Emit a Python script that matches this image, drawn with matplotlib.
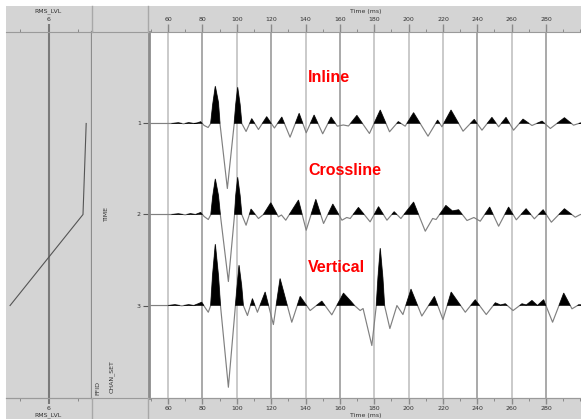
import matplotlib
matplotlib.use('Agg')
import matplotlib.pyplot as plt
from matplotlib.patches import Rectangle
from matplotlib.lines import Line2D
from matplotlib.ticker import MultipleLocator, FixedLocator
import numpy as np

W, H, DPI = 581, 419, 100
GRAY = '#d4d4d4'
EDGE = '#8c8c8c'
TRACE_PX = 91.0  # pixels between trace baselines

# ---- data ----
trace_ids = [1, 2, 3]
trace_names = ['Inline', 'Crossline', 'Vertical']
rms_lvl = [7.28, 7.17, 4.66]
time_ticks = [60, 80, 100, 120, 140, 160, 180, 200, 220, 240, 260, 280]
dark_grid = [80, 120, 160, 240, 280]

# wiggle key points: time (ms) and amplitude (pixels, up positive)
t_inline = [48, 62, 66, 69, 72, 75, 77, 79, 81, 83.3, 84.8, 86.0, 87.5, 89.3, 90.2,
            94.5, 98.5, 99.4, 100.5, 101.9, 102.9, 105.4, 108.7, 112.6, 117.4, 121.9,
            126.2, 131, 136.3, 140.4, 145, 150, 154.9, 158.5, 162, 165, 169.9, 177.2,
            183.5, 188.9, 194, 198, 202.9, 211.3, 216.9, 219.4, 224.7, 231.7, 238.2,
            242.7, 248.5, 252.4, 256.7, 261.1, 266.6, 271.8, 277.7, 282.5, 290.7,
            296, 300, 312]
a_inline = [0, 0, 0.7, -0.3, 0.8, 0, 0.5, 1.7, -2, -4, 0, 19, 37, 21, 0,
            -65, 0, 19, 36, 19, 0, -8, 4.7, -6, 6.7, -4.5,
            6.3, -13.7, 10, -9.3, 8.3, -10.3, 6.3, -2.7, -1.5, -2.5, 8, -10,
            13.3, -8.3, 1.8, -2.7, 10.7, -12.7, 3.3, -3.3, 13.3, -7.7, 4,
            -6.7, 6, -3.3, 6, -6.7, 4.3, -2, 2.3, -5, 5.7,
            -1.7, 0.5, 0]

t_cross = [48, 62, 66, 70, 73, 76, 79, 81, 83.4, 84.9, 86.0, 87.5, 89.3, 90.4,
           95.1, 98.7, 99.4, 100.5, 101.9, 102.9, 105.4, 108.3, 112.6, 115.5, 119.8,
           124.2, 126, 128.5, 135.9, 140.4, 146, 150.5, 155.9, 161.2, 164, 166,
           170.8, 177.6, 182.5, 187.4, 191.6, 195.5, 202.9, 209.7, 214, 216, 221.7,
           225.5, 229.1, 234, 238, 241.7, 247.2, 252.4, 258.2, 262.7, 268.4, 273.2,
           278.3, 283.1, 290.7, 297, 300, 312]
a_cross = [0, 0, 0.7, -0.3, 0.8, 0, 2, -2, -5, 0, 18, 35.3, 19, 0,
           -67, 0, 19, 37, 19, 0, -10.7, 5.3, -4, 0, 11.7,
           -2.3, -0.5, -5.7, 14.3, -15.7, 15, -9, 10.3, -5.7, -3, -4,
           7, -7.3, 7.7, -5.7, 2.7, -4, 12.3, -16.7, -4, -5, 9,
           3.5, 4.7, -6, -3, -6.7, 7.3, -11.7, 7.3, -5.3, 5.7, -4.3,
           4.7, -7.7, 5.7, -2.7, 0, 0]

t_vert = [48, 60, 64, 68, 72, 75, 77.5, 79.6, 81.5, 83.4, 84.8, 85.9, 87.5, 89.3,
          90.5, 95.1, 99.2, 100.2, 101.3, 102.8, 103.8, 106.2, 109.1, 112, 116.5,
          121.3, 125.2, 132, 136.9, 142.7, 149.5, 155.3, 162.1, 166.5, 168.5, 171.8,
          173.5, 178.6, 181.2, 182.2, 183.5, 185.0, 186, 189.1, 193.2, 196.7, 201.4,
          207.7, 215, 220, 224.8, 233, 238.8, 245.2, 250.5, 253.5, 256.3, 260.8,
          266, 268.5, 271.8, 275, 278.6, 283.8, 290.3, 295.1, 299, 312]
a_vert = [0, 0, 0.8, -0.3, 0.8, 0, 1.7, 3.3, -2, -6.7, 0, 30, 61, 30,
          0, -81.7, 0, 20, 40, 20, 0, -10, 6.7, -6.7, 13.3,
          -19, 26.7, -16.7, 9, -5, 4.3, -9.3, 12.3, 4, 0, -5,
          -3, -40, 0, 28, 57, 28, 0, -23, 0, -9, 16.2,
          -10.5, 9, -14, 13.3, -6.7, 5.7, -9, 2.7, 0.5, 1.7, -5,
          1.7, 0.5, 5, 0, 5.7, -16.7, 12.3, -3.3, 0.7, 0]

traces_t = [t_inline, t_cross, t_vert]
traces_a = [a_inline, a_cross, a_vert]


def box(x0, y0, x1, y1):
    # pixel box (top-left origin) -> figure fraction rect
    return [x0 / W, 1 - y1 / H, (x1 - x0) / W, (y1 - y0) / H]


def px_to_ms(x):
    return 50 + (x - 150.9) / 1.718


fig = plt.figure(figsize=(W / DPI, H / DPI), dpi=DPI)
fig.patches.append(Rectangle((6 / W, 0), 1, 1 - 6 / H, transform=fig.transFigure,
                             facecolor=GRAY, edgecolor='none', zorder=-5))
# header separators
for xs in (92, 148):
    for ya, yb in ((6, 32), (398, 419)):
        fig.lines.append(Line2D([xs / W, xs / W], [1 - ya / H, 1 - yb / H],
                                transform=fig.transFigure, color='#a8a8a8', lw=1))

ylim = (4.016, -0.005)
small = dict(fontsize=4.5, color='#333333', family='DejaVu Sans')
tick_top = dict(labelsize=4.5, labelcolor='#333333', pad=1.5)
tick_bot = dict(labelsize=4.5, labelcolor='#333333', pad=1.2)

# ---- left panel: RMS level ----
ax_rms = fig.add_axes(box(6, 32, 92, 398))
ax_rms.set_facecolor(GRAY)
ax_rms.set_xlim(4.52, 7.48)
ax_rms.set_ylim(*ylim)
ax_rms.axvline(6, color='#7a7a7a', lw=1.5)
ax_rms.plot(rms_lvl, trace_ids, color='#555555', lw=0.8)
ax_rms.set_yticks([])
ax_rms.xaxis.tick_top()
ax_rms.set_xticks([6])
ax_rms.xaxis.set_minor_locator(FixedLocator([5, 7]))
ax_rms.tick_params(axis='x', which='major', length=5.5, width=1.5, color='#7a7a7a',
                   **tick_top)
ax_rms.tick_params(axis='x', which='minor', length=2, width=0.7, color='#888888')
sec = ax_rms.secondary_xaxis('bottom')
sec.set_xticks([6])
sec.xaxis.set_minor_locator(FixedLocator([5, 7]))
sec.tick_params(axis='x', which='major', length=4.5, width=1.5, color='#7a7a7a',
                **tick_bot)
sec.tick_params(axis='x', which='minor', length=2, width=0.7, color='#888888')
sec.spines['bottom'].set_color('#9a9a9a')
ax_rms.spines['left'].set_visible(False)
ax_rms.spines['right'].set_color(EDGE)
ax_rms.spines['right'].set_linewidth(1.6)
for s in ('top', 'bottom'):
    ax_rms.spines[s].set_color('#9a9a9a')
fig.text(48 / W, 1 - 11.5 / H, 'RMS_LVL', ha='center', va='center', **small)
fig.text(48 / W, 1 - 415.5 / H, 'RMS_LVL', ha='center', va='center', **small)

# ---- middle panel: header names ----
ax_mid = fig.add_axes(box(92, 32, 149, 398))
ax_mid.set_facecolor(GRAY)
ax_mid.set_xticks([])
ax_mid.set_yticks([])
for s in ('left', 'right'):
    ax_mid.spines[s].set_visible(False)
for s in ('top', 'bottom'):
    ax_mid.spines[s].set_color('#9a9a9a')
ax_mid.text(14 / 57, 1 - 182 / 366, 'TIME', rotation=90, ha='center', va='center',
            transform=ax_mid.transAxes, **small)
ax_mid.text(6 / 57, 1 - 356 / 366, 'FFID', rotation=90, ha='center', va='center',
            transform=ax_mid.transAxes, **small)
ax_mid.text(20 / 57, 1 - 345 / 366, 'CHAN_SET', rotation=90, ha='center', va='center',
            transform=ax_mid.transAxes, **small)

# ---- main panel: wiggle traces ----
ax = fig.add_axes(box(149, 32, 600, 398))
ax.set_facecolor('white')
ax.set_xlim(px_to_ms(149), px_to_ms(600))
ax.set_ylim(*ylim)
for tk in time_ticks:
    ax.axvline(tk, color='#a2a2a2' if tk in dark_grid else '#c6c6c6', lw=1.3, zorder=0.5)

for base, t, a in zip(trace_ids, traces_t, traces_a):
    t = np.asarray(t, dtype=float)
    amp = np.asarray(a, dtype=float) / TRACE_PX
    y = base - amp
    ax.plot(t, y, color='#808080', lw=0.85, zorder=2)
    ax.fill_between(t, base, y, where=amp > 0, interpolate=True,
                    facecolor='black', edgecolor='black', lw=0.4, zorder=3)

label_off = [0.51, 0.48, 0.42]
for base, name, off in zip(trace_ids, trace_names, label_off):
    ax.text(px_to_ms(308), base - off, name, ha='left', va='center', color='#ff0000',
            fontsize=11.5, fontweight='bold', family='Liberation Sans', zorder=5)

ax.set_yticks(trace_ids)
ax.set_yticklabels([str(i) for i in trace_ids])
ax.tick_params(axis='y', direction='out', length=4.3, width=0.8, color='#555555',
               labelsize=4.5, labelcolor='#333333', pad=1.5)
ax.xaxis.tick_top()
ax.set_xticks(time_ticks)
ax.xaxis.set_minor_locator(MultipleLocator(10))
ax.tick_params(axis='x', which='major', length=5.5, width=1.0, color='#8a8a8a',
               **tick_top)
ax.tick_params(axis='x', which='minor', length=2, width=0.7, color='#8a8a8a')
secm = ax.secondary_xaxis('bottom')
secm.set_xticks(time_ticks)
secm.xaxis.set_minor_locator(MultipleLocator(10))
secm.tick_params(axis='x', which='major', length=4.5, width=1.0, color='#8a8a8a',
                 **tick_bot)
secm.tick_params(axis='x', which='minor', length=2, width=0.7, color='#8a8a8a')
secm.spines['bottom'].set_color('#9a9a9a')
ax.spines['right'].set_visible(False)
ax.spines['left'].set_color(EDGE)
ax.spines['left'].set_linewidth(2)
for s in ('top', 'bottom'):
    ax.spines[s].set_color('#9a9a9a')
fig.text(366 / W, 1 - 11 / H, 'Time (ms)', ha='center', va='center', **small)
fig.text(366 / W, 1 - 415.5 / H, 'Time (ms)', ha='center', va='center', **small)

fig.savefig('out.png', dpi=DPI)
